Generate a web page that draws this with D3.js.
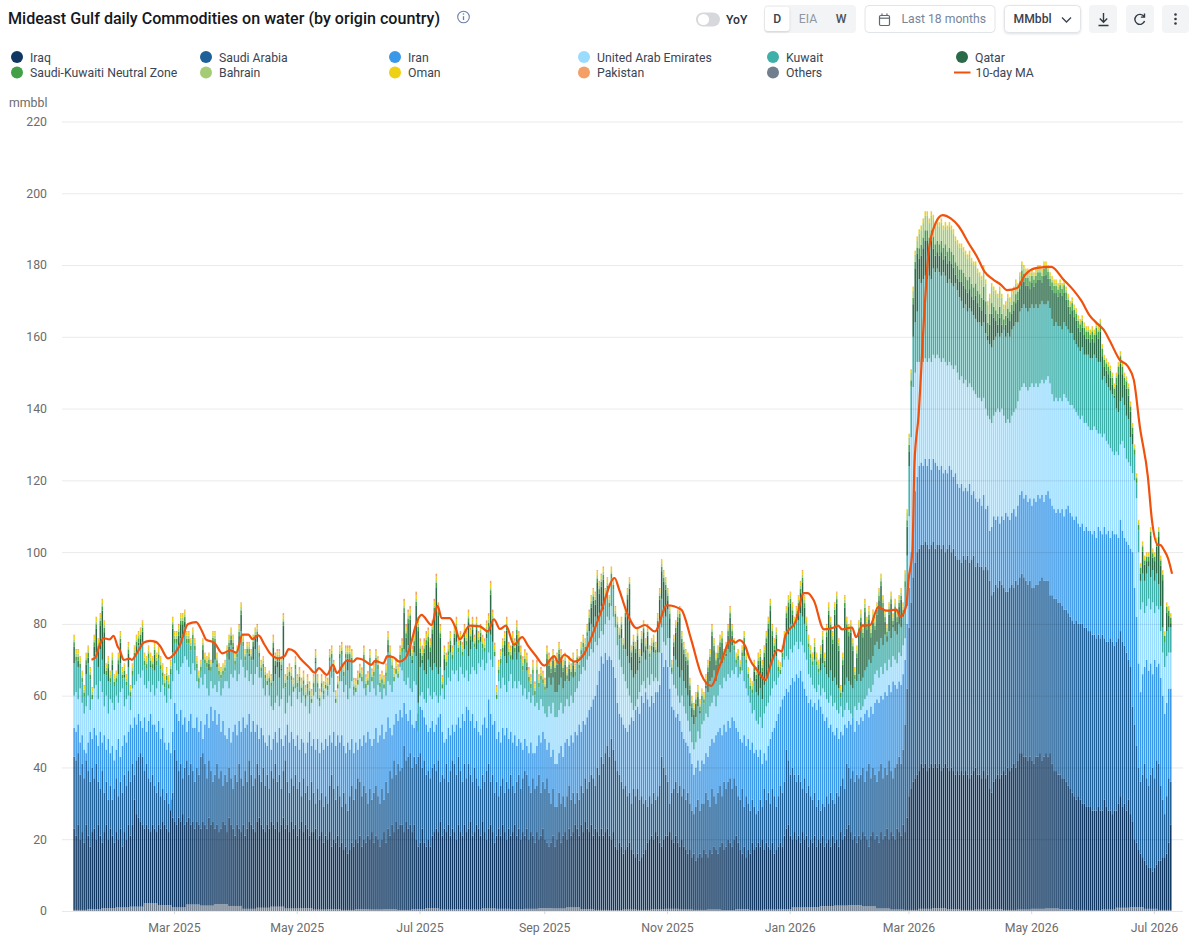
<!DOCTYPE html>
<html>
<head>
<meta charset="utf-8">
<title>Mideast Gulf daily Commodities on water</title>
<script src="https://cdn.jsdelivr.net/npm/d3@7/dist/d3.min.js"></script>
<style>
  html, body { margin: 0; background: #fff; }
  svg { display: block; font-family: Roboto, sans-serif; }
</style>
</head>
<body>
<svg id="chart" width="1200" height="938"></svg>
<script>
// Daily cumulative levels (mmbbl) at the top of each main band, Jan 10 2025 onward.
const iraqLevel = [
23,21,24,20,22,19,24,21,18,22, 23,20,24,21,19,22,24,20,23,21, 19,22,20,23,18,22,20,24,21,24,
31,27,26,25,24,23,24,23,22,24, 23,22,24,23,25,24,23,22,31,26, 25,24,26,25,27,24,25,26,24,25,
23,25,24,23,25,24,23,26,24,25, 23,24,22,23,25,24,22,26,24,23, 21,24,23,22,24,21,23,25,24,23,
22,25,26,24,23,22,24,23,25,24, 23,25,22,24,26,23,24,22,25,23, 24,21,23,25,22,24,23,21,22,22,
23,20,21,22,19,21,20,22,18,20, 19,21,18,19,17,18,16,17,19,18, 20,19,21,18,20,19,21,20,22,19,
21,20,18,20,22,19,23,21,24,22, 25,23,24,24,22,25,23,24,22,24, 20,18,19,23,19,18,20,18,21,22,
23,22,25,21,23,22,24,21,23,22, 20,24,22,21,24,22,23,25,21,22, 24,23,21,25,22,20,23,24,22,19,
21,23,21,24,22,20,23,21,22,24, 21,23,20,22,21,23,20,22,21,19, 22,20,21,23,20,19,18,19,21,18,
20,22,19,21,22,20,23,21,22,24, 23,21,24,22,25,23,22,24,21,23, 22,21,23,21,22,23,21,20,22,18,
17,19,18,16,17,18,19,17,16,15, 16,14,15,16,17,19,20,21,20,22, 21,19,18,20,21,21,22,20,19,21,
19,18,20,18,17,16,17,15,16,14, 15,16,15,17,16,15,17,16,18,17, 16,18,19,17,18,20,19,18,20,21,
19,17,16,18,15,17,16,19,17,18, 19,18,20,17,19,18,17,19,16,17, 18,19,18,21,23,24,21,20,22,20,
21,19,22,20,21,18,20,19,21,18, 20,19,21,18,19,20,18,21,19,20, 18,22,20,21,23,24,22,20,21,19,
21,20,22,21,20,18,21,22,20,21, 19,22,20,21,23,20,22,21,20,23, 22,21,24,22,26,32,34,36,37,38,
39,41,40,41,39,40,41,40,41,40, 41,39,40,41,40,39,40,39,38,39, 38,39,38,39,38,37,38,39,40,38,
38,37,39,37,38,34,33,36,37,38, 37,38,39,38,40,39,40,41,40,42, 44,44,43,43,42,43,42,41,43,43,
44,42,43,44,43,44,41,39,39,38, 38,37,37,36,35,34,33,32,31,32, 31,30,30,29,29,29,28,28,28,29,
28,28,31,29,28,28,27,28,28,30, 32,29,30,28,31,27,25,20,19,17, 16,15,14,13,12,12,11,12,13,14,
14,15,15,16,19,24];

const saudiLevel = [
43,42,44,38,41,37,42,39,36,40, 37,41,36,34,39,33,36,31,35,31, 34,37,32,36,33,38,35,39,36,41,
38,42,43,44,43,39,41,37,36,38, 35,33,36,32,34,31,33,30,28,33, 45,42,39,41,37,40,42,38,41,39,
36,40,38,43,44,41,37,42,39,36, 38,41,37,39,35,38,36,40,37,34, 38,36,41,37,35,39,36,42,38,35,
37,41,38,36,40,35,38,34,39,37, 41,36,38,34,39,42,36,33,37,35, 38,34,36,32,37,33,35,31,36,33,
30,34,31,33,29,32,30,35,38,34, 31,35,32,29,33,30,28,32,35,31, 34,37,36,32,35,33,30,34,31,33,
35,32,30,34,31,36,33,39,37,42, 38,41,39,40,46,42,43,44,40,43, 41,43,44,40,42,38,39,37,40,41,
39,42,36,38,37,41,36,39,42,41, 38,43,39,36,41,37,41,38,36,40, 37,35,34,38,36,39,41,36,38,33,
36,32,35,37,33,36,34,38,35,33, 36,38,34,37,39,38,35,33,37,34, 35,38,33,36,34,37,33,30,34,29,
29,33,30,32,29,32,35,31,33,30, 33,31,35,33,37,34,36,38,37,35, 40,38,43,41,44,46,43,48,45,42,
39,38,36,34,35,32,33,30,34,32, 34,31,32,30,31,29,32,30,33,31, 32,35,43,40,38,36,30,33,34,36,
33,35,32,34,31,33,30,28,27,29, 31,28,30,30,33,31,29,34,32,30, 33,35,32,36,34,36,37,34,37,35,
32,31,34,29,32,30,28,31,29,27, 28,31,29,34,31,33,30,34,32,29, 32,35,33,36,45,42,38,40,38,36,
38,36,34,37,33,35,32,31,33,29, 31,28,30,29,32,30,33,31,30,33, 32,35,37,34,41,40,37,39,36,38,
37,38,40,36,39,41,37,40,38,36, 39,41,37,40,38,42,39,37,40,41, 43,41,45,52,62,79,86,93,97,100,
101,102,102,103,102,101,102,103,101,102, 102,101,102,100,101,102,100,101,99,98, 98,97,99,98,99,97,98,99,96,97,
96,96,95,96,95,92,88,89,91,90, 92,91,90,89,89,90,91,90,92,91, 93,94,93,92,91,92,90,90,91,91,
92,93,92,92,92,88,88,87,87,86, 86,85,84,84,83,82,81,80,81,80, 80,80,79,79,78,78,77,77,76,77,
76,77,76,75,75,76,75,74,75,76, 78,75,74,72,70,68,57,52,46,40, 36,38,41,37,35,38,40,37,42,41,
35,31,27,32,37,36];

const iranLevel = [
51,50,52,47,49,45,44,47,50,48, 51,49,46,50,47,49,45,48,44,46, 42,45,48,43,46,49,47,50,52,51,
54,52,55,53,51,54,50,53,55,52, 52,50,53,48,51,47,45,47,44,50, 58,55,53,56,52,54,50,53,55,51,
51,54,50,53,48,52,55,51,57,53, 56,52,55,50,53,49,48,51,47,50, 52,49,53,50,54,51,52,55,50,53,
50,52,48,51,49,47,46,49,45,48, 50,47,51,48,46,49,52,47,50,48, 46,49,45,48,47,44,47,50,46,48,
45,48,44,47,45,48,46,49,47,50, 46,49,47,49,46,44,47,45,48,44, 47,45,48,46,49,47,50,48,46,48,
51,47,49,52,48,50,54,51,49,52, 55,53,56,54,58,55,53,56,52,51, 53,55,57,56,54,52,50,51,53,50,
52,54,55,50,47,48,51,49,52,50, 52,54,51,55,53,57,56,53,55,51, 53,50,49,52,54,51,59,55,52,53,
48,50,47,51,49,51,48,50,47,49, 46,48,47,45,48,46,44,47,44,44, 46,49,47,50,48,45,47,43,45,41,
41,44,46,43,47,48,46,49,47,50, 49,52,50,53,52,54,56,57,59,60, 63,67,71,69,72,70,71,70,68,65,
58,55,54,52,51,50,52,54,53,56, 57,55,60,58,61,59,57,60,58,61, 61,63,72,68,70,68,62,57,56,54,
55,53,50,48,47,46,44,41,38,40, 42,39,42,41,44,43,46,48,47,49, 50,51,49,52,50,53,51,54,53,51,
50,48,47,49,46,48,45,47,44,45, 43,45,41,44,42,46,48,50,51,53, 55,57,59,60,62,61,63,65,64,66,
65,67,64,62,60,58,59,57,58,56, 59,57,55,53,54,51,52,50,49,51, 48,50,49,52,51,53,52,54,50,53,
52,54,53,55,56,54,57,55,58,59, 58,60,59,61,60,63,61,64,63,62, 64,63,66,70,80,90,100,108,117,121,
124,125,124,126,124,126,123,126,125,124, 123,124,122,123,122,124,123,121,122,119, 118,119,117,118,117,119,116,117,115,114,
115,113,116,112,113,106,107,110,109,110, 108,110,109,111,110,109,111,112,110,113, 116,117,115,116,114,115,113,115,114,116,
115,116,114,116,117,115,113,112,111,112, 111,112,110,112,113,111,110,109,110,108, 107,108,106,107,106,106,105,106,104,107,
106,105,107,105,106,104,106,105,105,104, 109,106,104,103,102,101,100,90,82,69, 61,66,68,70,67,69,66,70,68,69,
65,60,55,58,62,62];

const uaeLevel = [
60,61,59,62,58,55,57,60,56,59, 62,63,59,64,61,57,60,55,59,58, 56,60,58,61,62,57,59,60,56,62,
63,64,66,65,67,63,62,64,61,63, 60,62,64,61,63,60,58,62,59,64, 69,67,66,68,69,71,70,68,66,69,
67,64,62,65,63,66,62,60,64,62, 63,61,64,60,62,64,64,62,66,65, 67,64,66,70,68,65,67,64,66,63,
66,68,65,65,62,60,63,60,57,56, 58,60,57,59,62,55,58,60,57,61, 62,59,61,58,60,57,60,55,58,60,
61,59,57,61,59,62,60,63,65,61, 58,62,64,64,61,63,59,62,64,60, 61,63,65,64,62,60,63,61,64,62,
60,63,61,59,62,60,64,63,61,64, 66,65,68,67,64,63,65,62,61,64, 63,50,60,61,59,58,62,60,59,61,
60,58,60,62,59,63,65,64,67,66, 67,64,68,66,65,67,64,66,68,67, 66,69,68,70,67,69,72,70,68,71,
59,64,62,65,63,61,64,66,62,64, 62,64,63,60,62,59,61,58,60,57, 58,56,59,57,55,54,57,55,58,54,
54,56,58,55,57,59,57,60,58,61, 62,64,66,68,67,70,71,73,72,75, 74,76,78,77,80,82,81,85,82,79,
74,70,68,66,64,62,60,58,56,57, 59,61,63,64,62,65,63,66,64,65, 64,72,79,75,74,76,68,66,63,62,
60,58,60,57,55,53,50,47,45,47, 50,48,52,53,55,54,57,58,60,57, 60,63,62,65,64,66,65,67,66,68,
65,66,67,64,62,60,58,55,56,53, 52,54,51,55,57,58,60,62,64,63, 65,66,68,70,71,70,73,72,74,75,
73,75,74,72,70,66,65,63,62,61, 63,60,62,61,59,58,60,57,58,56, 55,57,54,56,58,56,55,54,57,56,
58,56,57,59,60,62,61,63,66,67, 65,68,66,69,67,70,68,71,70,69, 72,71,74,76,85,110,132,146,150,153,
153,152,153,154,153,154,153,155,154,155, 154,153,154,153,152,153,152,151,152,150, 148,149,147,148,146,147,146,145,144,143,
143,142,143,140,138,137,136,138,139,140, 139,140,138,136,137,136,138,139,140,142, 145,146,147,146,145,146,147,146,147,146,
147,148,147,148,149,147,144,142,143,142, 143,142,144,143,142,141,141,140,139,138, 137,138,136,136,135,134,134,135,134,133,
133,132,133,131,130,129,128,127,128,127, 130,131,129,126,125,124,122,120,115,100, 84,86,83,85,87,84,86,83,85,84,
78,72,68,71,72,72];

const totalLevel = [
77,73,73,71,67,63,72,74,68,62, 77,82,76,83,87,81,69,71,67,72, 66,67,72,78,68,69,66,75,63,69,
74,77,78,79,81,72,71,74,72,71, 75,72,74,71,69,66,68,65,70,82, 78,78,80,83,83,84,78,78,76,79,
76,71,67,70,76,72,71,72,70,78, 78,72,69,68,69,70,74,77,79,77, 72,74,80,86,77,73,75,75,73,77,
79,80,74,70,71,68,65,67,66,77, 72,73,73,71,83,66,68,69,68,65, 71,66,68,65,67,63,66,64,58,66,
73,66,62,66,64,63,65,73,74,70, 58,60,74,75,69,74,74,74,73,65, 64,67,66,62,74,66,64,73,67,69,
73,71,66,67,65,69,78,74,71,66, 70,67,74,76,87,80,84,85,74,78, 89,82,76,74,76,78,79,76,81,87,
94,86,80,65,74,72,75,78,74,80, 82,76,78,75,80,78,84,79,82,77, 82,78,80,77,76,81,83,92,84,73,
63,70,73,76,78,82,75,74,78,76, 81,78,74,71,73,72,68,66,70,64, 70,66,68,67,65,74,72,70,73,70,
72,75,73,70,72,68,71,69,72,69, 73,71,75,77,76,80,84,88,90,89, 95,92,94,96,90,93,88,96,93,85,
82,79,82,76,85,90,93,74,77,75, 79,73,78,81,76,80,74,76,77,75, 83,90,98,95,93,90,85,70,77,81,
84,85,78,75,73,72,65,60,58,61, 63,59,62,61,66,70,73,80,76,72, 74,77,78,73,75,80,85,80,76,72,
73,70,74,78,72,68,65,64,70,68, 72,73,70,74,78,82,87,80,76,79, 70,64,74,78,85,88,89,86,82,85,
88,92,95,88,82,77,74,72,76,72, 70,74,78,72,80,86,82,78,86,89, 76,63,72,88,82,80,81,76,68,74,
81,84,80,87,82,85,80,84,82,86, 90,94,88,84,80,86,89,83,87,84, 88,90,86,95,112,133,151,174,184,188,
190,191,193,195,195,193,195,194,192,193, 192,193,191,192,191,192,191,190,188,187, 186,186,185,184,183,184,182,181,181,179,
178,177,180,176,170,172,175,174,173,172, 174,172,169,170,172,171,173,174,176,175, 178,181,180,179,179,178,179,178,179,180,
180,179,181,181,180,178,177,176,176,175, 176,175,176,174,172,170,171,169,168,166, 165,166,164,163,163,162,163,162,164,163,
165,158,155,154,153,152,150,147,150,153, 156,153,150,149,147,142,136,130,122,109, 97,103,99,100,100,107,101,100,104,107,
99,95,78,86,85,83];

// Weekly band thicknesses (mmbbl) for the thinner series.
const othersWeekly = [.3,.5,.8,1,1.2,2.2,1.6,1,1.8,1.5,1.9,1.4, .6,.9,1.2,.7,.8,.4,.5,.3,.5,.4,.5,.3,
  .5,.8,.4,.5,.4,.7,.6,.5,.6,.8,.7,1, .5,.3,.2,.4,.3,.5,.6,.4,.3,.4,.2,.5,
  .3,.4,.5,1,1.1,1.4,1.5,1.6,1.3,.7,.4,.3, .6,.8,.5,.3,.4,.5,.3,.4,.6,.7,.5,.3, .2,.4,.9,1.1,.6,.3];
const kuwaitWeekly = [9,9,9,8,8,7,7,8,7,7,7,8,7, 7,8,8,7,8,8,8,8,9,8,9, 8,8,8,8,7,7,8,8,8,8,7,7,
  7,7,8,9,8,8,8,7,7, 7,7,7,8,8,7,8,8,7,7,8,8,8,8, 14,23,24,23,21,21,21,24,22,22,21,20,19,20,16,12,8,9,7];
const neutralWeekly = [1.2,1.3,1.2,1.1,1.2,1.3,1.2,1.2,1.3,1.2,1.1,1.2,1.2, 1.1,1.2,1.3,1.2,1.1,1.2,1.2,1.3,1.2,1.2,1.2,
  1.2,1.3,1.2,1.2,1.1,1.2,1.2,1.3,1.2,1.2,1.1,1.2, 1.2,1.3,1.2,1.2,1.1,1.2,1.3,1.2,1.2, 1.2,1.3,1.2,1.1,1.2,1.3,1.2,1.2,1.2,1.3,1.2,1.2,1.3,1.2,
  1.8,3,3.2,3.5,3.5,3.5,3,2.5,2.2,2,2,2,2,2,2,2,1.5,1.2,1.5];
const bahrainWeekly = [.8,.8,.9,.8,.7,.8,.9,.8,.8,.7,.8,.9,.8, .8,.7,.8,.9,.8,.8,.7,.8,.8,.9,.8,
  .8,.7,.8,.9,.8,.8,.9,1,.9,.8,.7,.8, .8,.9,.8,.7,.8,.8,.9,.8,.7, .8,.8,.7,.9,.8,.8,.9,1.2,1,.9,1,1.2,1,.9,
  2,4,5,6,6,5,4.5,3,1.5,1,.8,.7,.6,.6,.5,.5,.5,.4,.4];
const omanWeekly = [1,1,.9,1,1,1.1,1.3,1,1,.9,1,1,.9, 1,1,.9,1,1,.9,1,1,.9,1,1,
  1,1,1.1,1,.9,1,1.2,1,1,.9,1,1, 1.1,1,1,.9,1,1,.9,1,1, 1,.9,1,1,.9,1,1,1,1,.9,1,1,.9,1,
  1,1.2,1.1,1.1,1.1,1,1,1,.9,.9,.9,.8,.8,.8,.8,.8,.8,.8,.8];
const pakistanWeekly = [.3,.3,.3,.3,.3,.3,.3,.3,.3,.3,.3,.3,.3, .3,.6,.7,.8,.7,.6,.7,.8,.7,.6,.8,
  1,.8,.7,.8,.7,.8,.6,.7,.8,.7,.5,.5, .4,.4,.3,.3,.4,.3,.3,.3,.3, .3,.3,.2,.3,.3,.2,.3,.2,.3,.3,.2,.3,.2,.2,
  .1,.1,.1,.1,.1,.1,.1,.1,.1,.1,.1,.1,.1,.1,.1,.1,.1,.1,.1];

// 10-day moving average, read as day offset / value pairs.
const maDays = [9,11,13,15,18,20,22,23,25,28,29,32,35,38,41,43,47,51,53,57,61,64,66,70,74,78,81,84,87,89,92,95,98,102,105,107,110,113,117,120,122,126,129,131,134,136,139,141,144,148,150,154,156,159,162,
  165,168,170,173,178,181,183,187,190,192,197,202,206,209,212,215,219,223,226,230,234,239,241,244,249,254,257,262,269,271,275,280,284,289,295,302,307,312,317,321,327,329,331,334,336,340,344,346,350,352,354,359,363,365,368,373,378,380,382,387,389,392,396,400,404,409,411,414,415,417,
  418,420,423,425,428,432,436,440,445,449,453,457,461,464,469,473,479,486,492,497,501,505,509,512,515,520,524,527,530,534,536,539,540,542,544,546];
const maValues = [70,70.7,74,76,75.7,76.7,73.7,72.8,70,70.3,70,72.3,74.8,75.3,75,73.9,70.4,72.3,74.2,80,80.5,77.9,75.6,74.8,71.8,72.6,72,77,77,75.8,76.8,74.2,71.6,70.4,71,73,72.3,70.2,68,66.4,67.7,65.8,68.6,66.3,68.6,69.8,69.5,70.4,70,68.6,69.7,69,71,70.7,69.5,
  70.4,75,79.3,82.5,79.7,85,81.6,81.6,78.8,75.7,79.5,79.3,77.9,81.3,78.6,79.5,74.2,76.3,73.9,71,68.4,71,69.2,71.4,69.5,71.8,75.6,83,92.8,90,83.3,78.8,79.7,77.9,85.2,84,75.7,66,62.7,68,75.6,74.8,75.5,73.7,70.4,67,64.4,67.7,72.8,72.3,77,80.7,88.6,88.6,86.5,78.5,79,79.5,78.5,79,76.3,79.5,79.7,84.7,83.7,84,82,85.3,92,100.6,
  124.8,137.8,167.6,183.4,191,193.9,193,190.8,186,182.4,178,176,174.5,173,173.6,177.3,179.2,179.5,176,173,170,166,163.6,162,159,153.6,151.8,148,135,121,109,102,102,100.6,98.3,94];

// Stack order runs bottom to top; legend order is separate.
const stackKeys = ["Others","Iraq","Saudi Arabia","Iran","United Arab Emirates","Kuwait","Qatar","Saudi-Kuwaiti Neutral Zone","Bahrain","Oman","Pakistan"];
const legendKeys = ["Iraq","Saudi Arabia","Iran","United Arab Emirates","Kuwait","Qatar","Saudi-Kuwaiti Neutral Zone","Bahrain","Oman","Pakistan","Others"];
const seriesColors = {
  "Iraq":"#0f3762","Saudi Arabia":"#1f6099","Iran":"#3a98e8","United Arab Emirates":"#99dcff",
  "Kuwait":"#3fafaa","Qatar":"#2a6a48","Saudi-Kuwaiti Neutral Zone":"#43a047","Bahrain":"#a5cc74",
  "Oman":"#eed014","Pakistan":"#f49f66","Others":"#717e8e"
};
const yTicks = d3.range(0, 221, 20);
const xTickDates = ["2025-03-01","2025-05-01","2025-07-01","2025-09-01","2025-11-01","2026-01-01","2026-03-01","2026-05-01","2026-07-01"];

const dayCount = 546;
const startDate = new Date(Date.UTC(2025,0,10));
const dayDate = i => d3.utcDay.offset(startDate, i);

// Turn the cumulative readings into one row of band values per day.
const rows = d3.range(dayCount).map(i => {
  const w = Math.floor(i/7);
  const tips = neutralWeekly[w]+bahrainWeekly[w]+omanWeekly[w]+pakistanWeekly[w];
  const room = Math.max(0, totalLevel[i]-tips-uaeLevel[i]);
  const kuwait = Math.min(kuwaitWeekly[w], room);
  return {
    date: dayDate(i),
    "Others": othersWeekly[w],
    "Iraq": iraqLevel[i]-othersWeekly[w],
    "Saudi Arabia": saudiLevel[i]-iraqLevel[i],
    "Iran": iranLevel[i]-saudiLevel[i],
    "United Arab Emirates": uaeLevel[i]-iranLevel[i],
    "Kuwait": kuwait,
    "Qatar": room-kuwait,
    "Saudi-Kuwaiti Neutral Zone": neutralWeekly[w],
    "Bahrain": bahrainWeekly[w],
    "Oman": omanWeekly[w],
    "Pakistan": pakistanWeekly[w]
  };
});

const svg = d3.select("#chart");
const x = d3.scaleUtc().domain([startDate, dayDate(dayCount-1)]).range([73.37, 73.37+2.0122*(dayCount-1)]);
const y = d3.scaleLinear().domain([0,220]).range([911,121.5]);
const barWidth = 1.5;

// Stacked daily bars.
const stacked = d3.stack().keys(stackKeys)(rows);
svg.append("g").selectAll("g").data(stacked).join("g")
  .attr("fill", s => seriesColors[s.key])
  .selectAll("rect").data(s => s).join("rect")
  .attr("x", d => x(d.data.date))
  .attr("width", barWidth)
  .attr("y", d => y(d[1]))
  .attr("height", d => Math.max(0, y(d[0])-y(d[1])));

// Value axis with gridlines laid over the bars.
const yAxis = svg.append("g").attr("transform","translate(62,0)")
  .call(d3.axisLeft(y).tickValues(yTicks).tickSize(-1121).tickPadding(15));
yAxis.select(".domain").remove();
yAxis.selectAll("line").attr("stroke","rgba(0,0,0,0.085)");
yAxis.selectAll("text").attr("fill","#6c6c6c").attr("font-size",12.3).attr("font-family","Roboto");

svg.append("text").attr("x",9).attr("y",106.5).attr("fill","#6c6c6c").attr("font-size",12.3).text("mmbbl");

// Time axis.
const xAxis = svg.append("g").attr("transform","translate(0,911)")
  .call(d3.axisBottom(x).tickValues(xTickDates.map(s=>new Date(s+"T00:00:00Z"))).tickSize(3).tickPadding(9).tickFormat(d3.utcFormat("%b %Y")));
xAxis.select(".domain").remove();
xAxis.selectAll("line").attr("stroke","#d4d7db");
xAxis.selectAll("text").attr("fill","#6c6c6c").attr("font-size",12.3).attr("font-family","Roboto");

// 10-day moving average.
const maLine = d3.line().x(d=>x(dayDate(d[0]))).y(d=>y(d[1])).curve(d3.curveMonotoneX);
svg.append("path").datum(maDays.map((d,i)=>[d,maValues[i]]))
  .attr("d",maLine).attr("fill","none").attr("stroke","#f0510d").attr("stroke-width",2.2).attr("stroke-linejoin","round");

// Title and info mark.
svg.append("text").attr("x",8).attr("y",24).attr("font-size",16.1).attr("font-weight",500).attr("fill","#15181d")
  .text("Mideast Gulf daily Commodities on water (by origin country)");
const info = svg.append("g").attr("transform","translate(463.5,17)").attr("fill","none").attr("stroke","#6a80ab");
info.append("circle").attr("r",5.8).attr("stroke-width",1.1);
info.append("line").attr("y1",-.8).attr("y2",3).attr("stroke-width",1.3);
info.append("circle").attr("cy",-3).attr("r",.8).attr("fill","#6a80ab").attr("stroke","none");

// Legend: six columns, two rows.
const legendColumns = [17,206,395,584,773,962];
const legendRows = [57,72.5];
const legend = svg.append("g").attr("font-size",12.25).attr("fill","#3b4554");
legendKeys.forEach((k,i)=>{
  const cx = legendColumns[i%6], cy = legendRows[Math.floor(i/6)];
  legend.append("circle").attr("cx",cx).attr("cy",cy).attr("r",6).attr("fill",seriesColors[k]);
  legend.append("text").attr("x",cx+13).attr("y",cy+4.5).text(k);
});
legend.append("line").attr("x1",954).attr("x2",970.5).attr("y1",72.5).attr("y2",72.5).attr("stroke","#f0510d").attr("stroke-width",2);
legend.append("text").attr("x",975.5).attr("y",77).text("10-day MA");

// Toolbar controls.
const bar = svg.append("g").attr("font-size",12.2);
bar.append("rect").attr("x",696).attr("y",12.5).attr("width",24).attr("height",14).attr("rx",7).attr("fill","#d6d8dc");
bar.append("circle").attr("cx",703.5).attr("cy",19.5).attr("r",5.6).attr("fill","#fff");
bar.append("text").attr("x",726).attr("y",23.5).attr("font-weight",500).attr("fill","#2b3038").text("YoY");

bar.append("rect").attr("x",764).attr("y",5).attr("width",92).attr("height",28).attr("rx",4).attr("fill","#f3f4f5");
bar.append("rect").attr("x",765).attr("y",7).attr("width",24.5).attr("height",24).attr("rx",3).attr("fill","#fff")
  .style("filter","drop-shadow(0 1px 1px rgba(0,0,0,.15))");
bar.append("text").attr("x",777.2).attr("y",23).attr("text-anchor","middle").attr("font-weight",500).attr("fill","#3b4250").text("D");
bar.append("text").attr("x",808).attr("y",23).attr("text-anchor","middle").attr("fill","#8f97a3").text("EIA");
bar.append("text").attr("x",841).attr("y",23).attr("text-anchor","middle").attr("font-weight",500).attr("fill","#4a515d").text("W");

bar.append("rect").attr("x",865).attr("y",5.5).attr("width",130).attr("height",27).attr("rx",4).attr("fill","#fff").attr("stroke","#e1e4e8");
const cal = bar.append("g").attr("transform","translate(884.5,20)").attr("fill","none").attr("stroke","#5d6878").attr("stroke-width",1.2);
cal.append("rect").attr("x",-5).attr("y",-4.5).attr("width",10).attr("height",10).attr("rx",1.2);
cal.append("line").attr("x1",-5).attr("x2",5).attr("y1",-1.8).attr("y2",-1.8);
cal.append("line").attr("x1",-2.5).attr("x2",-2.5).attr("y1",-6.5).attr("y2",-4.5);
cal.append("line").attr("x1",2.5).attr("x2",2.5).attr("y1",-6.5).attr("y2",-4.5);
bar.append("text").attr("x",901.5).attr("y",23).attr("fill","#78859b").text("Last 18 months");

bar.append("rect").attr("x",1004.5).attr("y",5.5).attr("width",76).attr("height",27).attr("rx",4).attr("fill","#fff").attr("stroke","#e1e4e8")
  .style("filter","drop-shadow(0 1px 1px rgba(0,0,0,.12))");
bar.append("text").attr("x",1013.5).attr("y",23).attr("font-weight",500).attr("fill","#3b4250").text("MMbbl");
bar.append("path").attr("d","M1062 17.5l4.5 4.5 4.5-4.5").attr("fill","none").attr("stroke","#3b4250").attr("stroke-width",1.3);

[1089,1126,1162].forEach(bx=>{
  bar.append("rect").attr("x",bx).attr("y",5).attr("width",bx===1162?27:28).attr("height",28).attr("rx",4).attr("fill","#f3f4f5");
});
bar.append("path").attr("d","M1103.5 13v9M1099.8 18.5l3.7 3.7 3.7-3.7M1098.5 25.5h10").attr("fill","none").attr("stroke","#333a45").attr("stroke-width",1.4);
bar.append("path").attr("d","M1144 16.5a5 5 0 1 0 .6 4.5M1144.5 13.5v3.6h-3.6").attr("fill","none").attr("stroke","#333a45").attr("stroke-width",1.4);
[14.5,19,23.5].forEach(cy=>bar.append("circle").attr("cx",1175.5).attr("cy",cy).attr("r",1.3).attr("fill","#333a45"));
</script>
</body>
</html>
